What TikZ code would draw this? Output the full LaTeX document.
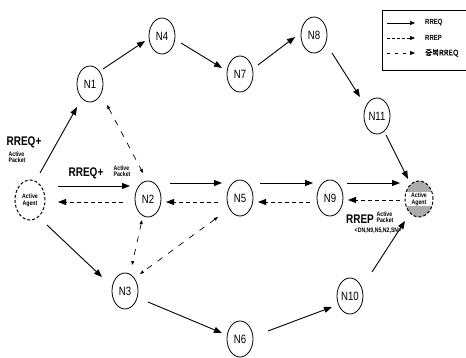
\documentclass[tikz,border=0pt]{standalone}
\usepackage{fontspec}
\setmainfont{Liberation Sans}
\newfontfamily\cond{Liberation Sans}[FakeStretch=0.8]
\newfontfamily\krfont{Noto Sans CJK KR}[FakeBold=1.5]
\usetikzlibrary{arrows.meta,calc,shapes.geometric}
\begin{document}
\begin{tikzpicture}[x=1pt,y=-1pt,
 nd/.style={ellipse,draw,line width=0.8pt,minimum width=26pt,minimum height=36pt,inner sep=0pt,font=\cond\fontsize{12}{12}\selectfont},
 ag/.style={ellipse,draw,line width=1pt,densely dashed,inner sep=0pt,align=center,font=\cond\bfseries\fontsize{6.5}{7}\selectfont},
 agr/.style={ag,path picture={
   \fill[gray!65] (path picture bounding box.north west) rectangle ([yshift=7pt]path picture bounding box.east);
   \fill[gray!65] ([yshift=-7pt]path picture bounding box.west) rectangle (path picture bounding box.south east);}},
 req/.style={line width=0.9pt,-{Triangle[length=8pt,width=6pt]}},
 rep/.style={line width=0.9pt,dash pattern=on 4pt off 3pt,-{Triangle[length=8pt,width=6pt]}},
 dup/.style={line width=0.7pt,dash pattern=on 6pt off 7pt,{Triangle[length=4pt,width=3pt]}-{Triangle[length=4pt,width=3pt]}},
 lblbig/.style={font=\cond\bfseries\fontsize{12.5}{12.5}\selectfont,inner sep=0pt},
 lblsmall/.style={font=\cond\bfseries\fontsize{6.5}{6.5}\selectfont,inner sep=0pt,align=left},
 lgtxt/.style={font=\cond\bfseries\fontsize{7.5}{7.5}\selectfont,inner sep=0pt,anchor=west},
 lgarr/.style={line width=0.7pt,-{Triangle[length=5pt,width=4pt]}}
]
\useasboundingbox (0,0) rectangle (466,358);
% nodes
\node[ag,minimum width=30pt,minimum height=40pt] (al) at (30,200) {Active\\Agent};
\node[agr,minimum width=28pt,minimum height=36pt] (ar) at (419,199) {Active\\Agent};
\node[nd] (n1) at (90,84) {N1};
\node[nd] (n4) at (162,36) {N4};
\node[nd] (n7) at (240,74) {N7};
\node[nd] (n8) at (314,35) {N8};
\node[nd] (n11) at (377,116) {N11};
\node[nd] (n2) at (148,199) {N2};
\node[nd] (n5) at (240,198) {N5};
\node[nd] (n9) at (330,198) {N9};
\node[nd] (n3) at (125,291) {N3};
\node[nd] (n6) at (240,339) {N6};
\node[nd] (n10) at (350,296) {N10};
% solid RREQ arrows
\draw[req] ($(al)+(10,-27)$) -- ($(n1)+(-13,23)$);
\draw[req] ($(n1)+(13,-15)$) -- ($(n4)+(-17,5)$);
\draw[req] ($(n4)+(19,7)$) -- ($(n7)+(-18,-6)$);
\draw[req] ($(n7)+(18,-9)$) -- ($(n8)+(-19,2)$);
\draw[req] ($(n8)+(18,18)$) -- ($(n11)+(-17,-19)$);
\draw[req] ($(n11)+(9,19)$) -- ($(ar)+(-11,-20)$);
\draw[req] ($(al)+(17,25)$) -- ($(n3)+(-23,-14)$);
\draw[req] ($(n3)+(23,11)$) -- ($(n6)+(-18,-6)$);
\draw[req] ($(n6)+(28,-8)$) -- ($(n10)+(-18,11)$);
\draw[req] ($(n10)+(22,-24)$) -- ($(ar)+(-14,22)$);
\draw[req] ($(al)+(28,-14)$) -- ($(n2)+(-18,-13)$);
\draw[req] ($(n2)+(22,-16)$) -- ($(n5)+(-18,-15)$);
\draw[req] ($(n5)+(20,-15)$) -- ($(n9)+(-17,-15)$);
\draw[req] ($(n9)+(17,-15)$) -- ($(ar)+(-19,-16)$);
% dashed RREP arrows
\draw[rep] ($(n2)+(-25,3)$) -- ($(al)+(28,2)$);
\draw[rep] ($(n5)+(-22,4)$) -- ($(n2)+(18,3)$);
\draw[rep] ($(n9)+(-20,4)$) -- ($(n5)+(18,4)$);
\draw[rep] ($(ar)+(-19,1)$) -- ($(n9)+(18,2)$);
% duplicate RREQ
\draw[dup] ($(n1)+(17,21)$) -- ($(n2)+(-5,-26)$);
\draw[dup] ($(n2)+(-6,21)$) -- ($(n3)+(7,-26)$);
\draw[dup] ($(n5)+(-22,19)$) -- ($(n3)+(15,-17)$);
% labels
\node[lblbig] (t1) at (24,142) {RREQ+};
\node[lblsmall] (t2) at (17,157) {Active\\Packet};
\node[lblbig] (t3) at (86,173) {RREQ+};
\node[lblsmall] (t4) at (122,171) {Active\\Packet};
\node[lblbig] (t5) at (360,219) {RREP};
\node[lblsmall] (t6) at (385,217) {Active\\Packet};
\node[font=\cond\bfseries\fontsize{6.5}{6.5}\selectfont,inner sep=0pt] (t7) at (378,231) {<DN,N9,N5,N2,SN>};
% legend
\draw[line width=0.7pt] (466,10) -- (382,10) -- (382,70) -- (466,70);
\coordinate (la1) at (387,23); \coordinate (lb1) at (415,23);
\coordinate (la2) at (387,38); \coordinate (lb2) at (415,38);
\coordinate (la3) at (387,53); \coordinate (lb3) at (415,53);
\draw[lgarr] (la1) -- (lb1);
\draw[lgarr,dash pattern=on 3pt off 2pt] (la2) -- (lb2);
\draw[lgarr,dash pattern=on 3pt off 5pt] (la3) -- (lb3);
\node[lgtxt] (lg1) at (425,23) {RREQ};
\node[lgtxt] (lg2) at (425,38) {RREP};
\node[lgtxt,font=\krfont\fontsize{7.5}{7.5}\selectfont] (lg3) at (425,53) {중복RREQ};
\end{tikzpicture}
\end{document}
